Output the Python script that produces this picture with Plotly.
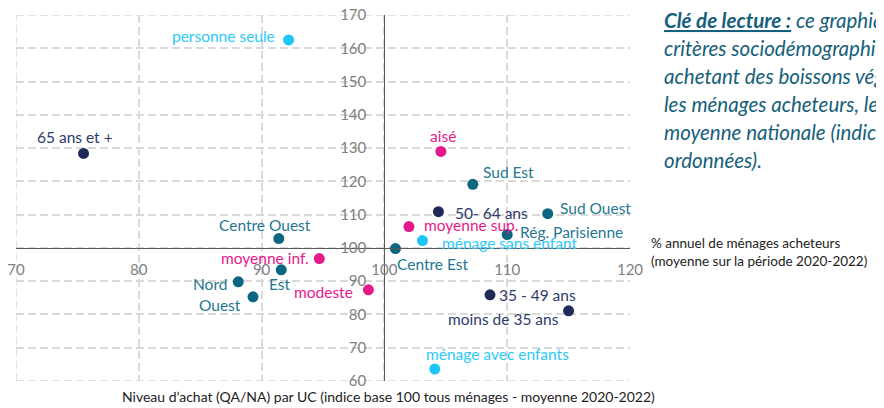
import plotly.graph_objects as go

# ---- data ----
labels = ["personne seule", "65 ans et +", "aisé", "Sud Est", "Centre Ouest",
          "moyenne inf.", "Est", "Nord", "Ouest", "modeste", "50- 64 ans",
          "Sud Ouest", "moyenne sup.", "Rég. Parisienne", "ménage sans enfant",
          "Centre Est", "35 - 49 ans", "moins de 35 ans", "ménage avec enfants"]
niveau_achat = [92.2, 75.5, 104.6, 107.2, 91.4, 94.7, 91.6, 88.1, 89.3, 98.7,
                104.4, 113.3, 102.0, 110.0, 103.1, 100.9, 108.6, 115.0, 104.1]
pct_acheteurs = [162.5, 128.4, 129.0, 119.1, 102.8, 96.8, 93.4, 89.8, 85.3, 87.4,
                 110.9, 110.3, 106.4, 104.0, 102.2, 99.8, 85.9, 81.1, 63.6]
groupe = ["foyer", "age", "revenu", "region", "region", "revenu", "region", "region",
          "region", "revenu", "age", "region", "revenu", "region", "foyer", "region",
          "age", "age", "foyer"]
x_ticks = [70, 80, 90, 100, 110, 120]
y_ticks = [60, 70, 80, 90, 100, 110, 120, 130, 140, 150, 160, 170]
cle_lines = ["<b><u>Clé de lecture :</u></b> ce graphique positionne les",
             "critères sociodémographiques des ménages",
             "achetant des boissons végétales. Parmi",
             "les ménages acheteurs, le niveau d’achat",
             "moyenne nationale (indice 100 en",
             "ordonnées)."]

# ---- styling ----
marker_colors = {"foyer": "#1ec5f8", "age": "#1f2a5a", "revenu": "#e6198a", "region": "#0b6680"}
text_colors = {"foyer": "#2ccaf8", "age": "#2f3a6b", "revenu": "#e6198a", "region": "#1f7891"}
# label placement: (xanchor, x offset px, y offset px downward)
label_style = {
    "personne seule": ("right", -12, -4), "65 ans et +": ("center", -9, -16),
    "aisé": ("center", 2, -15), "Sud Est": ("left", 8, -12),
    "Centre Ouest": ("center", -14, -14), "moyenne inf.": ("right", -8, -1),
    "Est": ("center", -1, 14), "Nord": ("right", -9, 2), "Ouest": ("right", -10, 8),
    "modeste": ("right", -13, 2), "50- 64 ans": ("left", 15, 1),
    "Sud Ouest": ("left", 10, -6), "moyenne sup.": ("left", 13, -2),
    "Rég. Parisienne": ("left", 11, -3), "ménage sans enfant": ("left", 18, 2),
    "Centre Est": ("left", 0, 15), "35 - 49 ans": ("left", 7, 0),
    "moins de 35 ans": ("right", -8, 8), "ménage avec enfants": ("left", -11, -15),
}

FONT = "Lato"
GRID = "#d9d9d9"
DASH = "8px,4px"
W, H = 876, 400
L, R, T, B = 8, 254, 7, 27
PW, PH = W - L - R, H - T - B

fig = go.Figure()
fig.add_trace(go.Scatter(
    x=niveau_achat, y=pct_acheteurs, mode="markers",
    marker=dict(size=11, color=[marker_colors[g] for g in groupe]),
    cliponaxis=False, hoverinfo="skip", showlegend=False,
))
for lab, xv, yv, g in zip(labels, niveau_achat, pct_acheteurs, groupe):
    anc, dx, dy = label_style[lab]
    fig.add_annotation(x=xv, y=yv, text=lab, showarrow=False,
                       xanchor=anc, yanchor="middle", xshift=dx, yshift=-dy,
                       font=dict(family=FONT, size=15.5, color=text_colors[g]))

axis_common = dict(showgrid=True, gridcolor=GRID, griddash=DASH, gridwidth=1.5,
                   zeroline=False, showline=True, linecolor="#595959", linewidth=1.3,
                   anchor="free", ticks="", automargin=False, ticklabeloverflow="allow",
                   tickfont=dict(family=FONT, size=15, color="#808080"))
fig.update_layout(
    width=W, height=H,
    margin=dict(l=L, r=R, t=T, b=B, autoexpand=False),
    plot_bgcolor="white", paper_bgcolor="white",
    font=dict(family=FONT, size=14, color="#595959"),
    xaxis=dict(range=[70, 120], tickvals=x_ticks,
               position=(100 - 60) / (170 - 60), ticklabelstandoff=8, **axis_common),
    yaxis=dict(range=[60, 170], tickvals=y_ticks,
               position=(100 - 70) / (120 - 70), ticklabelstandoff=15, **axis_common),
)

# outer frame gridlines (left, top and bottom dashed edges)
for x0, x1, y0, y1 in [(70, 70, 60, 170), (70, 120, 60, 60), (70, 120, 170, 170)]:
    fig.add_shape(type="line", xref="x", yref="y", x0=x0, x1=x1, y0=y0, y1=y1,
                  line=dict(color=GRID, width=1.5, dash=DASH), layer="below")


def px_x(px):  # screen px (page has an 8px body margin) -> paper x
    return (px - 8 - L) / PW


def px_y(py):
    return 1 - (py - 8 - T) / PH


fig.add_annotation(
    text="Niveau d’achat (QA/NA) par UC (indice base 100 tous ménages - moyenne 2020-2022)",
    xref="paper", yref="paper", x=px_x(388), y=px_y(396),
    xanchor="center", yanchor="middle", showarrow=False,
    font=dict(family=FONT, size=14, color="#222222"))
fig.add_annotation(
    text="% annuel de ménages acheteurs<br>(moyenne sur la période 2020-2022)",
    xref="paper", yref="paper", x=px_x(649), y=px_y(252), xanchor="left", yanchor="middle",
    align="left", showarrow=False,
    font=dict(family=FONT, size=13.5, color="#222222"))
for i, line in enumerate(cle_lines):
    fig.add_annotation(
        text=line, xref="paper", yref="paper", x=px_x(662), y=px_y(20 + 28 * i),
        xanchor="left", yanchor="middle", align="left", showarrow=False,
        font=dict(family=FONT, size=20.5, color="#15607a", style="italic"))

fig.write_html("out.html")
